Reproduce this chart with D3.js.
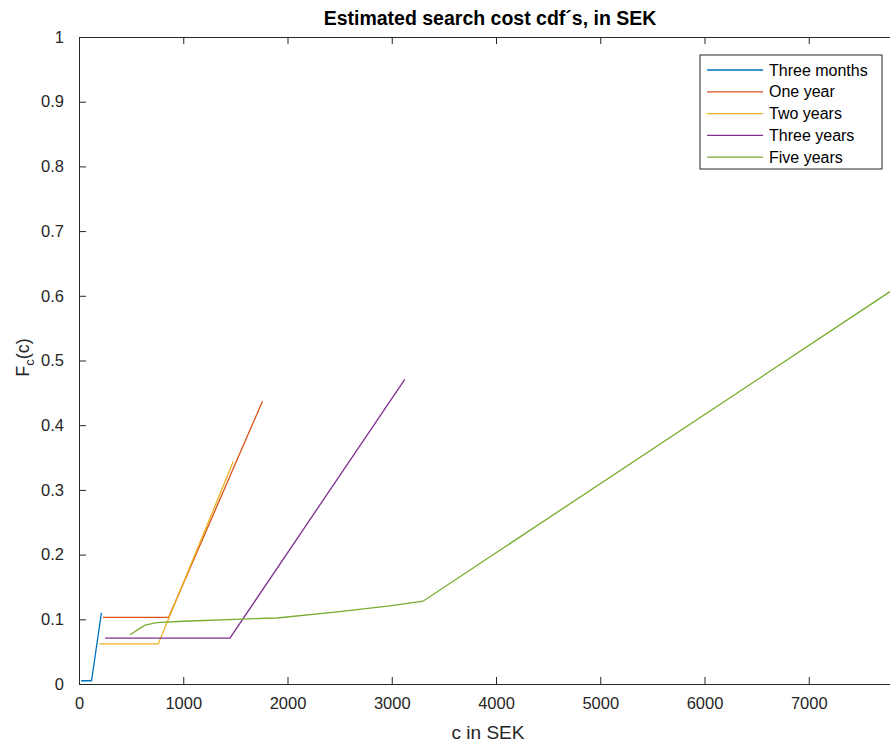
<!DOCTYPE html>
<html>
<head>
<meta charset="utf-8">
<script src="https://cdn.jsdelivr.net/npm/d3@7"></script>
<style>
  body{margin:0;background:#fff;overflow:hidden}
  svg{display:block;font-family:"Liberation Sans",Arial,Helvetica,sans-serif}
</style>
</head>
<body>
<svg id="chart" width="890" height="745"></svg>
<script>
// data: [c in SEK, F_c(c)]
const threeMonths=[[20,0.005],[120,0.005],[215,0.11]];
const oneYear=[[230,0.103],[860,0.103],[1760,0.437]];
const twoYears=[[195,0.062],[760,0.062],[1480,0.344]];
const threeYears=[[250,0.071],[1448,0.071],[3125,0.471]];
const fiveYears=[[489,0.076],[633,0.091],[745,0.095],[1000,0.097],[1500,0.100],[1900,0.102],[2500,0.112],[3000,0.121],[3300,0.128],[8000,0.630]];

const seriesNames=["Three months","One year","Two years","Three years","Five years"];
const seriesColors=["#0072BD","#D95319","#EDB120","#7E2F8E","#77AC30"];
const seriesData=[threeMonths,oneYear,twoYears,threeYears,fiveYears];

const xTicks=[0,1000,2000,3000,4000,5000,6000,7000];
const yTicks=[0,0.1,0.2,0.3,0.4,0.5,0.6,0.7,0.8,0.9,1];

const mLeft=79, mRight=913, mTop=37, mBottom=684;
const txt="#262626";

const svg=d3.select("#chart");
const x=d3.scaleLinear().domain([0,8000]).range([mLeft,mRight]);
const y=d3.scaleLinear().domain([0,1]).range([mBottom,mTop]);

// lines first, axes drawn over them
const line=d3.line().x(d=>x(d[0])).y(d=>y(d[1]));
svg.append("g").selectAll("path")
  .data(seriesData)
  .join("path")
  .attr("d",line)
  .attr("fill","none")
  .attr("stroke",(d,i)=>seriesColors[i])
  .attr("stroke-width",1.3);

const tl=7;
// bottom axis
const xb=svg.append("g").attr("transform",`translate(0,${mBottom})`)
  .call(d3.axisBottom(x).tickValues(xTicks).tickSizeInner(-tl).tickSizeOuter(0).tickPadding(13).tickFormat(d3.format("d")));
// top axis (ticks only)
const xt=svg.append("g").attr("transform",`translate(0,${mTop})`)
  .call(d3.axisTop(x).tickValues(xTicks).tickSizeInner(-tl).tickSizeOuter(0).tickFormat(""));
// left axis
const yl=svg.append("g").attr("transform",`translate(${mLeft},0)`)
  .call(d3.axisLeft(y).tickValues(yTicks).tickSizeInner(-tl).tickSizeOuter(0).tickPadding(15).tickFormat(d=>d===0||d===1?d3.format("d")(d):d3.format(".1f")(d)));

[xb,xt,yl].forEach(g=>{
  g.select(".domain").attr("stroke",txt).attr("stroke-width",1);
  g.selectAll(".tick line").attr("stroke",txt);
  g.selectAll(".tick text").attr("fill",txt).attr("font-size",16.5).attr("font-family","Liberation Sans,Arial,sans-serif");
});

// title
svg.append("text")
  .attr("x",(mLeft+mRight)/2-6).attr("y",25)
  .attr("text-anchor","middle")
  .attr("font-size",19.5).attr("font-weight","bold").attr("fill","#000")
  .text("Estimated search cost cdf´s, in SEK");

// x label
svg.append("text")
  .attr("x",(mLeft+mRight)/2-8).attr("y",739)
  .attr("text-anchor","middle")
  .attr("font-size",19).attr("fill",txt)
  .text("c in SEK");

// y label F_c(c)
const yLab=svg.append("text")
  .attr("transform",`translate(29,${(mTop+mBottom)/2-3}) rotate(-90)`)
  .attr("text-anchor","middle")
  .attr("font-size",18).attr("fill",txt);
yLab.append("tspan").text("F");
yLab.append("tspan").attr("font-size",13).attr("dy",5).text("c");
yLab.append("tspan").attr("dy",-5).text("(c)");

// legend
const lg=svg.append("g").attr("transform","translate(700,55)");
lg.append("rect").attr("width",182).attr("height",114)
  .attr("fill","#fff").attr("stroke",txt).attr("stroke-width",1);
const items=lg.selectAll("g").data(seriesNames).join("g")
  .attr("transform",(d,i)=>`translate(0,${15+i*21.8})`);
items.append("line").attr("x1",7).attr("x2",63)
  .attr("stroke",(d,i)=>seriesColors[i]).attr("stroke-width",1.3);
items.append("text").attr("x",69).attr("y",5.5)
  .attr("font-size",16).attr("fill","#000").text(d=>d);
</script>
</body>
</html>
